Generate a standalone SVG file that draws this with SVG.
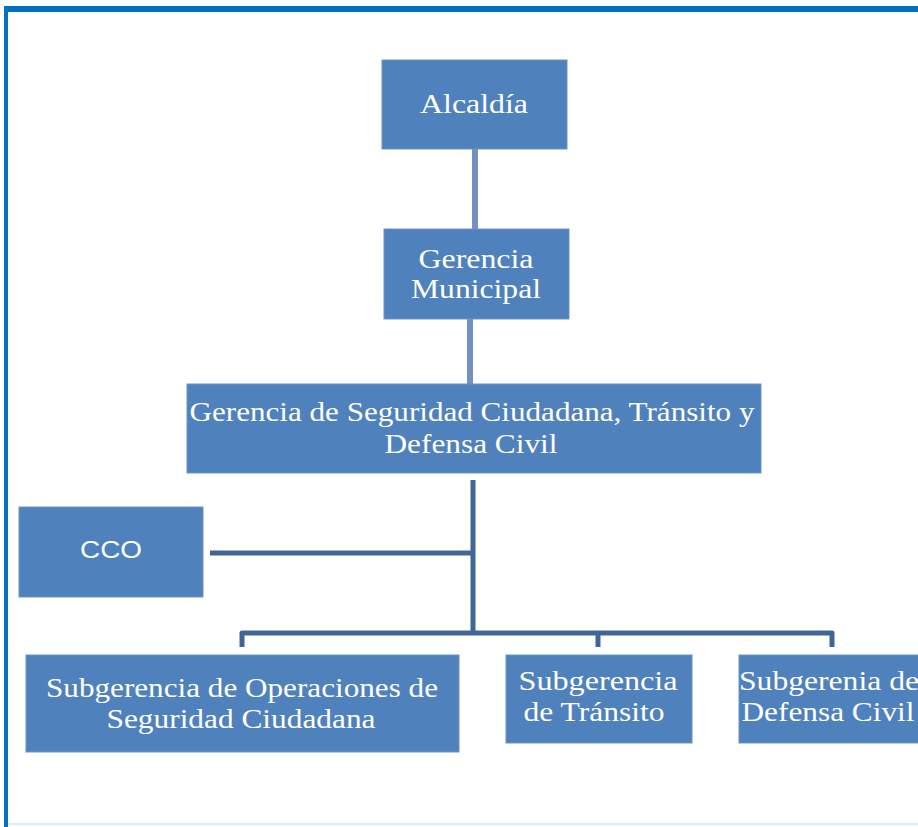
<svg xmlns="http://www.w3.org/2000/svg" width="918" height="827" viewBox="0 0 918 827">
  <style>
    .box { fill: #4F81BD; stroke: #6f93c6; stroke-width: 1; }
    .lbl { fill: #ffffff; font-family: "Liberation Serif", "Times New Roman", serif; font-size: 27px; text-anchor: middle; }
    .sans { fill: #ffffff; font-family: "Liberation Sans", Arial, sans-serif; font-size: 23px; text-anchor: middle; }
    .link-top { stroke: #7390bf; stroke-width: 6; fill: none; }
    .link { stroke: #3f6696; stroke-width: 5; fill: none; stroke-linejoin: round; }
  </style>

  <!-- page frame -->
  <rect x="0" y="0" width="918" height="827" fill="#ffffff"/>
  <rect x="4" y="6" width="914" height="6" fill="#0070C0"/>
  <rect x="4" y="6" width="4" height="821" fill="#0070C0"/>
  <rect x="8" y="823" width="910" height="2" fill="#dce8f4"/>

  <!-- connectors -->
  <g id="connectors">
    <line class="link-top" x1="475" y1="149" x2="475" y2="229"/>
    <line class="link-top" x1="470" y1="319" x2="470" y2="384"/>
    <line class="link" x1="473" y1="480" x2="473" y2="633"/>
    <line class="link" x1="210" y1="553" x2="473" y2="553"/>
    <polyline class="link" points="242,647 242,633 832,633 832,647"/>
    <line class="link" x1="598" y1="633" x2="598" y2="647"/>
  </g>

  <g id="alcaldia">
    <rect class="box" x="382" y="60" width="185" height="89"/>
    <text class="lbl" x="474" y="113" textLength="108" lengthAdjust="spacingAndGlyphs">Alcaldía</text>
  </g>

  <g id="gerencia-municipal">
    <rect class="box" x="384" y="229" width="185" height="90"/>
    <text class="lbl" x="476" y="268" textLength="115" lengthAdjust="spacingAndGlyphs">Gerencia</text>
    <text class="lbl" x="476" y="298" textLength="130" lengthAdjust="spacingAndGlyphs">Municipal</text>
  </g>

  <g id="gerencia-seguridad">
    <rect class="box" x="187" y="384" width="574" height="89"/>
    <text class="lbl" x="472" y="421" textLength="565" lengthAdjust="spacingAndGlyphs">Gerencia de Seguridad Ciudadana, Tránsito y</text>
    <text class="lbl" x="471" y="453" textLength="173" lengthAdjust="spacingAndGlyphs">Defensa Civil</text>
  </g>

  <g id="cco">
    <rect class="box" x="19" y="507" width="184" height="90"/>
    <text class="sans" x="111" y="558" textLength="62" lengthAdjust="spacingAndGlyphs">CCO</text>
  </g>

  <g id="subgerencia-operaciones">
    <rect class="box" x="26" y="655" width="433" height="97"/>
    <text class="lbl" x="242" y="697" textLength="392" lengthAdjust="spacingAndGlyphs">Subgerencia de Operaciones de</text>
    <text class="lbl" x="241" y="728" textLength="269" lengthAdjust="spacingAndGlyphs">Seguridad Ciudadana</text>
  </g>

  <g id="subgerencia-transito">
    <rect class="box" x="506" y="655" width="186" height="88"/>
    <text class="lbl" x="598" y="690" textLength="159" lengthAdjust="spacingAndGlyphs">Subgerencia</text>
    <text class="lbl" x="594" y="721" textLength="141" lengthAdjust="spacingAndGlyphs">de Tránsito</text>
  </g>

  <g id="subgerencia-defensa">
    <rect class="box" x="739" y="655" width="185" height="88"/>
    <text class="lbl" x="829" y="690" textLength="180" lengthAdjust="spacingAndGlyphs">Subgerenia de</text>
    <text class="lbl" x="828" y="721" textLength="173" lengthAdjust="spacingAndGlyphs">Defensa Civil</text>
  </g>
</svg>
